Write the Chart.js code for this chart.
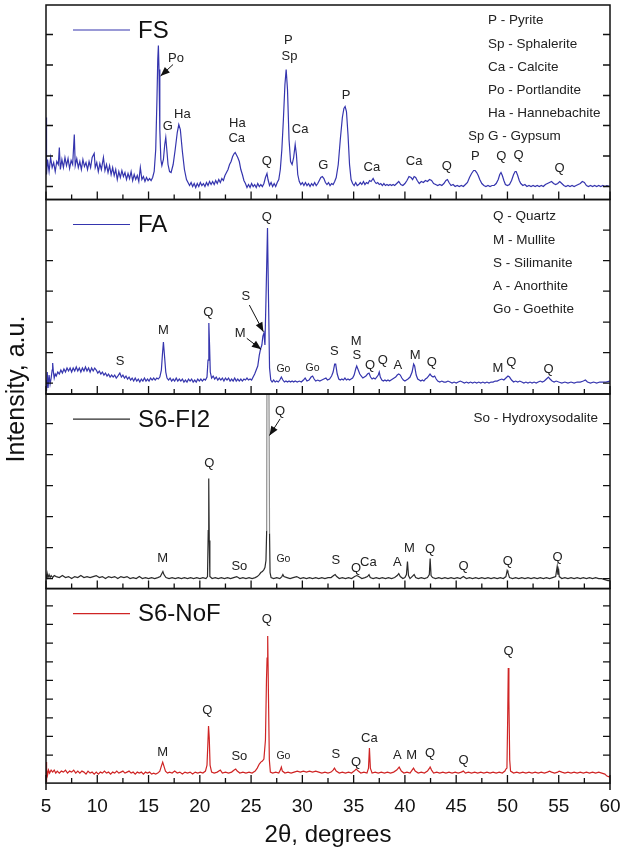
<!DOCTYPE html>
<html>
<head>
<meta charset="utf-8">
<title>XRD patterns</title>
<script src="https://cdn.jsdelivr.net/npm/chart.js@4.4.1/dist/chart.umd.min.js"></script>
<style>
  html, body { margin: 0; padding: 0; background: #fff; }
  canvas { display: block; }
</style>
</head>
<body>
<canvas id="xrd" width="621" height="848"></canvas>
<script>
/* XRD patterns — four stacked panels sharing the 2θ axis */

// ---- data: [2θ, intensity a.u.] ----
const fsPattern = [
  [5.00,820],[5.05,250],[5.15,400],[5.3,280],[5.45,420],[5.6,320],[5.75,370],[5.9,280],[6.05,380],[6.2,350],
  [6.3,520],[6.4,300],[6.55,400],[6.7,320],[6.85,420],[7.0,340],[7.15,410],[7.3,310],[7.45,390],[7.6,350],
  [7.76,650],[7.85,340],[8.0,410],[8.15,320],[8.3,380],[8.45,300],[8.6,400],[8.75,330],[8.9,370],[9.05,300],
  [9.2,380],[9.35,320],[9.5,420],[9.7,460],[9.8,320],[9.95,370],[10.1,280],[10.25,360],[10.4,300],[10.6,420],
  [10.75,290],[10.9,350],[11.05,270],[11.2,340],[11.35,250],[11.5,320],[11.65,240],[11.8,300],[11.95,200],[12.1,280],
  [12.25,220],[12.4,290],[12.55,230],[12.7,270],[12.85,200],[13.0,260],[13.15,210],[13.3,280],[13.45,190],[13.6,250],
  [13.75,200],[13.9,240],[14.05,180],[14.2,320],[14.35,200],[14.5,230],[14.65,180],[14.8,220],[14.95,190],[15.1,210],
  [15.25,190],[15.4,220],[15.55,280],[15.7,500],[15.82,1000],[15.9,1400],[15.96,1540],[16.02,1300],[16.1,700],[16.2,400],
  [16.3,340],[16.45,400],[16.58,550],[16.68,620],[16.78,500],[16.9,350],[17.05,280],[17.2,270],[17.4,350],[17.6,500],
  [17.8,670],[17.95,750],[18.1,700],[18.3,480],[18.5,300],[18.7,200],[18.85,170],[19.0,140],[19.15,170],[19.3,130],
  [19.45,160],[19.6,120],[19.75,160],[19.9,130],[20.05,170],[20.2,140],[20.35,160],[20.5,130],[20.65,170],[20.8,140],
  [20.95,180],[21.1,150],[21.25,180],[21.4,150],[21.55,190],[21.7,160],[21.85,200],[22.0,170],[22.15,210],[22.3,190],
  [22.45,240],[22.6,270],[22.75,300],[22.9,350],[23.05,380],[23.2,430],[23.35,460],[23.45,470],[23.55,450],[23.7,420],
  [23.85,380],[24.0,300],[24.15,250],[24.3,190],[24.45,160],[24.6,120],[24.75,150],[24.9,120],[25.05,160],[25.2,130],
  [25.35,150],[25.5,120],[25.65,160],[25.8,130],[25.95,150],[26.1,130],[26.25,160],[26.4,220],[26.55,260],[26.65,200],
  [26.8,140],[26.95,170],[27.1,130],[27.25,160],[27.4,130],[27.55,170],[27.7,200],[27.85,300],[28.0,500],[28.15,800],
  [28.3,1150],[28.42,1300],[28.55,1100],[28.7,600],[28.85,380],[29.0,350],[29.15,420],[29.3,550],[29.42,450],[29.55,250],
  [29.7,180],[29.85,150],[30.0,170],[30.15,140],[30.3,170],[30.45,140],[30.6,160],[30.75,130],[30.9,160],[31.05,140],
  [31.2,170],[31.35,140],[31.5,160],[31.65,190],[31.8,220],[31.95,230],[32.1,210],[32.25,170],[32.4,150],[32.55,170],
  [32.7,140],[32.85,160],[33.0,150],[33.15,180],[33.3,220],[33.5,350],[33.7,600],[33.9,820],[34.05,910],[34.17,930],
  [34.3,880],[34.45,650],[34.6,350],[34.75,200],[34.9,160],[35.05,140],[35.2,170],[35.35,140],[35.5,150],[35.65,170],
  [35.8,150],[35.96,180],[36.1,150],[36.25,170],[36.4,160],[36.55,190],[36.7,180],[36.9,210],[37.05,180],[37.2,160],
  [37.35,170],[37.5,150],[37.65,160],[37.8,140],[37.95,160],[38.1,140],[38.25,150],[38.4,140],[38.55,150],[38.7,140],
  [38.85,150],[39.0,140],[39.2,160],[39.4,180],[39.6,150],[39.8,140],[40.0,160],[40.2,190],[40.4,230],[40.6,220],
  [40.75,200],[40.9,230],[41.05,220],[41.2,190],[41.4,160],[41.6,180],[41.8,170],[42.0,190],[42.2,180],[42.4,200],
  [42.6,190],[42.8,160],[43.0,150],[43.2,140],[43.4,150],[43.6,140],[43.8,160],[44.0,190],[44.15,200],[44.3,170],
  [44.5,140],[44.7,150],[44.9,130],[45.1,140],[45.3,130],[45.5,140],[45.7,130],[45.9,150],[46.1,170],[46.3,220],
  [46.5,260],[46.7,290],[46.85,290],[47.0,270],[47.15,240],[47.3,200],[47.5,160],[47.7,140],[47.9,130],[48.1,140],
  [48.3,130],[48.5,140],[48.7,140],[48.9,160],[49.1,200],[49.25,250],[49.37,270],[49.5,240],[49.65,190],[49.8,150],
  [50.0,140],[50.2,150],[50.4,190],[50.6,250],[50.75,280],[50.85,280],[51.0,240],[51.15,190],[51.3,160],[51.5,140],
  [51.7,150],[51.9,130],[52.1,140],[52.3,130],[52.5,140],[52.7,130],[52.9,140],[53.1,130],[53.3,140],[53.5,130],
  [53.7,150],[53.9,160],[54.1,170],[54.3,180],[54.5,160],[54.7,150],[54.9,160],[55.1,180],[55.3,160],[55.5,140],
  [55.7,130],[55.9,140],[56.1,130],[56.3,140],[56.5,130],[56.7,140],[56.9,150],[57.1,160],[57.3,180],[57.5,170],
  [57.7,140],[57.9,130],[58.1,140],[58.3,130],[58.5,140],[58.7,130],[58.9,140],[59.1,130],[59.3,140],[59.5,130],
  [59.7,140],[60.0,130]
];

const faPattern = [
  [5.0,140],[5.05,30],[5.12,220],[5.2,60],[5.3,190],[5.4,100],[5.5,160],[5.6,240],[5.65,310],[5.72,220],
  [5.8,160],[5.9,200],[6.0,180],[6.15,220],[6.3,200],[6.45,240],[6.6,210],[6.75,250],[6.9,220],[7.05,260],
  [7.2,230],[7.35,260],[7.5,220],[7.65,260],[7.8,230],[7.95,270],[8.1,230],[8.25,260],[8.4,220],[8.55,260],
  [8.7,230],[8.85,270],[9.0,230],[9.15,260],[9.3,220],[9.45,260],[9.6,230],[9.75,260],[9.9,240],[10.05,210],
  [10.2,230],[10.35,200],[10.5,220],[10.65,190],[10.8,210],[10.95,180],[11.1,200],[11.25,170],[11.4,190],[11.55,170],
  [11.7,190],[11.85,160],[12.0,180],[12.2,210],[12.35,170],[12.5,190],[12.65,160],[12.8,180],[12.95,150],[13.1,170],
  [13.25,140],[13.4,160],[13.55,130],[13.7,160],[13.85,130],[14.0,150],[14.15,120],[14.3,150],[14.45,130],[14.6,160],
  [14.75,130],[14.9,150],[15.05,130],[15.2,160],[15.35,140],[15.5,160],[15.65,140],[15.8,160],[15.95,150],[16.1,170],
  [16.25,240],[16.35,390],[16.45,520],[16.55,390],[16.68,220],[16.8,160],[16.95,140],[17.1,160],[17.25,130],[17.4,150],
  [17.55,130],[17.7,160],[17.85,130],[18.0,150],[18.15,130],[18.3,150],[18.45,120],[18.6,140],[18.75,120],[18.9,150],
  [19.05,130],[19.2,150],[19.35,120],[19.5,140],[19.65,120],[19.8,150],[19.95,130],[20.1,150],[20.25,130],[20.4,150],
  [20.55,140],[20.7,170],[20.8,340],[20.88,710],[20.95,490],[21.02,220],[21.15,160],[21.3,180],[21.45,150],[21.6,170],
  [21.75,140],[21.9,160],[22.05,140],[22.2,160],[22.35,130],[22.5,160],[22.65,140],[22.8,160],[22.95,130],[23.1,150],
  [23.25,130],[23.4,160],[23.55,130],[23.7,150],[23.85,130],[24.0,150],[24.15,130],[24.3,150],[24.45,140],[24.6,160],
  [24.75,140],[24.9,150],[25.05,140],[25.2,170],[25.35,200],[25.5,240],[25.65,280],[25.8,390],[25.92,450],[26.05,490],
  [26.15,580],[26.25,610],[26.35,490],[26.45,940],[26.6,1660],[26.7,940],[26.8,260],[26.92,140],[27.05,120],[27.2,140],
  [27.35,120],[27.5,130],[27.65,120],[27.8,140],[27.95,170],[28.1,140],[28.25,120],[28.4,130],[28.55,120],[28.7,130],
  [28.85,120],[29.0,130],[29.15,120],[29.3,130],[29.5,120],[29.7,130],[29.9,120],[30.1,140],[30.27,160],[30.45,130],
  [30.65,140],[30.85,170],[31.0,180],[31.15,150],[31.3,130],[31.5,140],[31.7,130],[31.9,140],[32.1,150],[32.3,160],
  [32.45,140],[32.65,150],[32.85,180],[33.0,220],[33.15,300],[33.25,300],[33.4,200],[33.55,150],[33.7,140],[33.85,150],
  [34.0,140],[34.15,160],[34.3,140],[34.45,150],[34.6,140],[34.75,150],[34.9,160],[35.05,190],[35.2,250],[35.3,280],
  [35.45,240],[35.6,200],[35.75,180],[35.9,160],[36.05,170],[36.2,180],[36.35,200],[36.5,210],[36.65,170],[36.8,150],
  [36.95,160],[37.1,150],[37.25,170],[37.4,190],[37.5,220],[37.6,170],[37.75,140],[37.9,130],[38.05,140],[38.2,130],
  [38.35,140],[38.5,130],[38.65,140],[38.8,150],[38.95,160],[39.1,170],[39.25,190],[39.4,200],[39.55,190],[39.7,160],
  [39.85,140],[40.0,130],[40.15,140],[40.3,150],[40.5,170],[40.7,220],[40.85,300],[40.95,280],[41.1,190],[41.25,150],
  [41.4,140],[41.55,130],[41.7,140],[41.85,130],[42.0,150],[42.15,160],[42.3,180],[42.45,200],[42.6,180],[42.75,170],
  [42.9,180],[43.05,150],[43.2,130],[43.4,120],[43.6,130],[43.8,120],[44.0,120],[44.2,130],[44.4,120],[44.6,110],
  [44.8,120],[45.0,110],[45.2,120],[45.4,130],[45.6,120],[45.8,110],[46.0,120],[46.2,110],[46.4,120],[46.6,110],
  [46.8,120],[47.0,110],[47.2,120],[47.4,110],[47.6,120],[47.8,110],[48.0,120],[48.2,110],[48.4,120],[48.6,120],
  [48.8,130],[49.0,130],[49.2,140],[49.45,150],[49.65,140],[49.85,160],[50.05,180],[50.2,170],[50.4,140],[50.6,120],
  [50.8,130],[51.0,120],[51.2,130],[51.4,120],[51.6,110],[51.8,120],[52.0,110],[52.2,120],[52.4,110],[52.6,120],
  [52.8,110],[53.0,120],[53.2,130],[53.4,120],[53.6,130],[53.8,150],[54.0,170],[54.15,150],[54.35,130],[54.55,120],
  [54.75,130],[55.0,120],[55.3,110],[55.6,120],[55.9,110],[56.2,120],[56.5,110],[56.8,120],[57.1,120],[57.4,130],
  [57.6,140],[57.8,120],[58.1,110],[58.4,120],[58.7,110],[59.0,120],[59.3,120],[59.6,120],[60.0,130]
];

const fi2Pattern = [
  [5.0,140],[5.05,100],[5.12,150],[5.2,110],[5.3,140],[5.4,110],[5.5,130],[5.65,110],[5.8,130],[6.0,120],
  [6.3,110],[6.6,130],[6.9,110],[7.2,120],[7.5,100],[7.8,120],[8.1,110],[8.4,130],[8.7,110],[9.0,120],
  [9.3,110],[9.6,120],[9.9,130],[10.2,110],[10.5,120],[10.8,100],[11.1,120],[11.4,110],[11.7,120],[12.0,100],
  [12.3,120],[12.6,110],[12.9,120],[13.2,100],[13.5,110],[13.8,100],[14.1,120],[14.4,100],[14.7,110],[15.0,100],
  [15.3,110],[15.6,100],[15.9,110],[16.15,120],[16.3,150],[16.4,170],[16.5,140],[16.7,110],[17.0,100],[17.3,110],
  [17.6,100],[17.9,110],[18.2,100],[18.5,110],[18.8,100],[19.1,110],[19.4,100],[19.7,110],[20.0,100],[20.3,110],
  [20.6,100],[20.75,120],[20.82,580],[20.87,1100],[20.92,480],[20.98,120],[21.2,100],[21.5,110],[21.8,100],[22.1,110],
  [22.4,100],[22.7,110],[23.0,100],[23.3,110],[23.6,120],[23.9,100],[24.2,110],[24.5,100],[24.8,110],[25.1,100],
  [25.4,110],[25.6,120],[25.8,140],[25.95,160],[26.1,170],[26.25,190],[26.35,210],[26.45,280],[26.52,580],[26.56,3000],
  [26.7,3000],[26.8,550],[26.85,160],[26.95,110],[27.2,100],[27.5,110],[27.8,100],[28.0,120],[28.1,140],[28.2,120],
  [28.5,110],[28.8,100],[29.1,110],[29.45,120],[29.8,100],[30.1,110],[30.4,100],[30.7,110],[31.0,100],[31.3,110],
  [31.6,100],[31.9,110],[32.2,100],[32.5,110],[32.8,110],[33.05,130],[33.2,140],[33.35,120],[33.6,100],[33.9,110],
  [34.2,100],[34.5,110],[34.8,100],[35.1,120],[35.3,130],[35.5,120],[35.8,100],[36.1,110],[36.35,120],[36.5,140],
  [36.62,110],[36.9,100],[37.2,110],[37.5,100],[37.8,110],[38.1,100],[38.4,110],[38.7,100],[39.0,110],[39.25,130],
  [39.4,150],[39.55,120],[39.8,100],[40.0,110],[40.15,140],[40.25,270],[40.35,130],[40.5,100],[40.7,120],[40.9,140],
  [41.05,110],[41.3,100],[41.6,110],[41.9,100],[42.2,110],[42.38,140],[42.46,300],[42.55,130],[42.7,110],[43.0,100],
  [43.3,110],[43.6,100],[43.9,110],[44.2,100],[44.5,110],[44.8,100],[45.1,110],[45.4,100],[45.7,120],[46.0,100],
  [46.3,110],[46.6,100],[46.9,110],[47.2,100],[47.5,110],[47.8,100],[48.1,110],[48.4,100],[48.7,110],[49.0,100],
  [49.3,110],[49.6,100],[49.85,120],[49.97,180],[50.05,160],[50.2,110],[50.5,100],[50.8,110],[51.1,100],[51.4,110],
  [51.7,100],[52.0,110],[52.3,100],[52.6,110],[52.9,100],[53.2,110],[53.5,100],[53.8,110],[54.1,100],[54.4,110],
  [54.7,120],[54.85,220],[54.92,140],[54.98,200],[55.05,120],[55.3,100],[55.6,110],[55.9,100],[56.2,110],[56.5,100],
  [56.8,110],[57.1,100],[57.4,110],[57.7,100],[58.0,110],[58.3,100],[58.6,110],[58.9,100],[59.2,100],[59.5,90],
  [59.8,80],[60.0,80]
];

const nofPattern = [
  [5.0,210],[5.03,10],[5.08,150],[5.15,80],[5.25,130],[5.35,100],[5.5,130],[5.65,110],[5.8,130],[5.95,100],
  [6.1,120],[6.3,100],[6.5,120],[6.7,110],[6.9,130],[7.1,100],[7.3,120],[7.5,110],[7.7,130],[7.9,100],
  [8.1,120],[8.3,100],[8.5,120],[8.7,110],[8.9,90],[9.1,120],[9.3,100],[9.5,110],[9.7,90],[9.9,110],
  [10.1,90],[10.3,110],[10.5,100],[10.7,120],[10.9,100],[11.1,110],[11.3,90],[11.5,110],[11.7,100],[11.9,120],
  [12.1,100],[12.3,110],[12.5,120],[12.7,100],[12.9,110],[13.1,120],[13.3,100],[13.5,110],[13.7,90],[13.9,110],
  [14.1,100],[14.3,110],[14.5,90],[14.7,110],[14.9,100],[15.1,110],[15.3,90],[15.5,100],[15.7,90],[15.9,100],
  [16.1,120],[16.25,170],[16.38,210],[16.5,170],[16.65,120],[16.85,100],[17.05,110],[17.3,100],[17.55,120],[17.8,100],
  [18.05,110],[18.3,90],[18.55,110],[18.8,100],[19.05,110],[19.3,90],[19.55,110],[19.8,100],[20.05,110],[20.3,100],
  [20.55,120],[20.7,180],[20.78,380],[20.85,570],[20.92,450],[21.0,180],[21.15,110],[21.4,100],[21.7,110],[22.0,130],
  [22.2,100],[22.5,110],[22.8,100],[23.1,110],[23.35,130],[23.5,140],[23.65,120],[23.9,100],[24.2,110],[24.5,100],
  [24.8,110],[25.1,100],[25.4,120],[25.6,150],[25.8,190],[25.95,210],[26.1,220],[26.25,240],[26.4,430],[26.5,1030],
  [26.56,1250],[26.62,1470],[26.7,830],[26.78,230],[26.88,110],[27.1,100],[27.4,110],[27.7,100],[27.85,130],[27.95,160],
  [28.05,120],[28.3,100],[28.6,110],[28.9,100],[29.2,110],[29.5,120],[29.8,110],[30.1,120],[30.4,110],[30.7,120],
  [31.0,110],[31.3,120],[31.6,110],[31.9,100],[32.2,110],[32.5,100],[32.8,110],[33.0,130],[33.13,150],[33.3,120],
  [33.6,100],[33.9,110],[34.2,100],[34.5,110],[34.8,100],[35.05,120],[35.25,140],[35.45,120],[35.7,100],[36.0,110],
  [36.3,100],[36.45,150],[36.54,350],[36.63,150],[36.8,100],[37.1,110],[37.4,100],[37.7,110],[38.0,100],[38.3,110],
  [38.6,100],[38.9,110],[39.2,130],[39.44,160],[39.65,120],[39.9,100],[40.2,110],[40.5,100],[40.7,130],[40.84,150],
  [41.0,120],[41.3,100],[41.6,110],[41.9,100],[42.2,120],[42.4,150],[42.46,160],[42.6,130],[42.8,100],[43.1,110],
  [43.4,100],[43.7,110],[44.0,100],[44.3,110],[44.6,100],[44.9,110],[45.2,100],[45.5,110],[45.7,120],[45.9,100],
  [46.2,110],[46.5,100],[46.8,110],[47.1,100],[47.4,110],[47.7,100],[48.0,110],[48.3,100],[48.6,110],[48.9,100],
  [49.2,110],[49.5,100],[49.75,120],[49.85,140],[49.95,150],[50.02,630],[50.08,1150],[50.14,830],[50.22,230],[50.3,120],
  [50.6,100],[50.9,110],[51.2,100],[51.5,110],[51.8,100],[52.1,110],[52.4,100],[52.7,110],[53.0,100],[53.3,110],
  [53.6,100],[53.9,110],[54.1,120],[54.3,110],[54.6,100],[54.9,110],[55.05,120],[55.3,110],[55.6,100],[55.9,110],
  [56.2,100],[56.5,110],[56.8,100],[57.1,110],[57.4,100],[57.7,110],[58.0,100],[58.3,110],[58.6,100],[58.9,110],
  [59.2,100],[59.5,90],[59.7,70],[60.0,60]
];

// peak labels: [2θ, intensity, phase]
const fsPeaks = [
  [17.68,1410,'Po'],[16.87,733,'G'],[18.30,850,'Ha'],[23.66,757,'Ha'],[23.60,607,'Ca'],[26.53,377,'Q'],
  [28.64,1593,'P'],[28.74,1433,'Sp'],[29.78,700,'Ca'],[32.05,340,'G'],[34.27,1043,'P'],[36.78,317,'Ca'],
  [40.90,377,'Ca'],[44.09,333,'Q'],[46.95,627,'Sp'],[46.88,427,'P'],[49.39,433,'Q'],[51.08,440,'Q'],[55.08,307,'Q']
];
const faPeaks = [
  [12.22,323,'S'],[16.44,633,'M'],[20.83,813,'Q'],[24.48,973,'S'],[23.93,607,'M'],[26.53,1767,'Q'],
  [28.15,247,'Go'],[31.00,255,'Go'],[33.13,430,'S'],[35.24,523,'M'],[35.31,383,'S'],[36.61,290,'Q'],
  [37.85,333,'Q'],[39.31,290,'A'],[41.00,390,'M'],[42.63,313,'Q'],[49.07,257,'M'],[50.37,313,'Q'],[54.00,250,'Q']
];
const fi2Peaks = [
  [27.83,1770,'Q'],[20.93,1247,'Q'],[16.38,297,'M'],[23.86,220,'So'],[28.15,297,'Go'],[33.26,280,'S'],
  [35.24,203,'Q'],[36.44,257,'Ca'],[39.27,257,'A'],[40.44,403,'M'],[42.46,387,'Q'],[45.71,223,'Q'],
  [50.04,273,'Q'],[54.88,313,'Q']
];
const nofPeaks = [
  [26.53,1637,'Q'],[20.74,730,'Q'],[16.38,303,'M'],[23.86,263,'So'],[28.15,273,'Go'],[33.26,287,'S'],
  [35.24,203,'Q'],[36.54,447,'Ca'],[39.27,273,'A'],[40.67,280,'M'],[42.46,297,'Q'],[45.71,230,'Q'],[50.10,1320,'Q']
];

// arrows: [from 2θ, from I, to 2θ, to I]
const fsArrows  = [[17.39,1350,16.17,1235]];
const faArrows  = [[24.83,890,26.20,623],[24.58,557,25.98,447]];
const fi2Arrows = [[27.83,1697,26.79,1530]];
const nofArrows = [];

// phase keys
const fsKey  = ['P - Pyrite','Sp - Sphalerite','Ca - Calcite','Po - Portlandite','Ha - Hannebachite','G - Gypsum'];
const faKey  = ['Q - Quartz','M - Mullite','S - Silimanite','A - Anorthite','Go - Goethite'];
const fi2Key = ['So - Hydroxysodalite'];
const nofKey = [];

// y tick marks (unlabelled) per panel
const fsTicks  = [130,435,740,1040,1345,1650];
const faTicks  = [110,415,720,1030,1335,1640];
const fi2Ticks = [100,410,720,1030,1340,1650];
const nofTicks = [280,467,653,840,1027,1213,1400,1587,1773];

const xMin = 5, xMax = 60, xStep = 5;
const panelMax = 1945;
const FONT = "'Liberation Sans', Arial, sans-serif";

const panels = [
  { id: 'yFS',  name: 'FS',     color: '#3535ae', data: fsPattern,  peaks: fsPeaks,  arrows: fsArrows,  key: fsKey,  ticks: fsTicks,  weight: 4 },
  { id: 'yFA',  name: 'FA',     color: '#3535ae', data: faPattern,  peaks: faPeaks,  arrows: faArrows,  key: faKey,  ticks: faTicks,  weight: 3 },
  { id: 'yFI2', name: 'S6-FI2', color: '#2b2b2b', data: fi2Pattern, peaks: fi2Peaks, arrows: fi2Arrows, key: fi2Key, ticks: fi2Ticks, weight: 2 },
  { id: 'yNoF', name: 'S6-NoF', color: '#cf2424', data: nofPattern, peaks: nofPeaks, arrows: nofArrows, key: nofKey, ticks: nofTicks, weight: 1 },
];

// frame, inward ticks, legends, peak labels, arrows and keys
const decorations = {
  id: 'decorations',
  afterDatasetsDraw(chart) {
    const { ctx } = chart;
    const x = chart.scales.x;
    const left = x.left, right = x.right;
    ctx.save();
    ctx.lineCap = 'butt';

    panels.forEach((p, i) => {
      const y = chart.scales[p.id];
      const top = y.top, bot = y.bottom;

      ctx.strokeStyle = '#111';
      ctx.lineWidth = 1.5;
      ctx.strokeRect(left, top, right - left, bot - top);
      if (i === panels.length - 1) {
        ctx.beginPath();
        ctx.moveTo(left, bot); ctx.lineTo(left, bot + 7);
        ctx.moveTo(right, bot); ctx.lineTo(right, bot + 7);
        ctx.stroke();
      }

      ctx.lineWidth = 1.3;
      ctx.beginPath();
      p.ticks.forEach(v => {
        const py = y.getPixelForValue(v);
        ctx.moveTo(left, py); ctx.lineTo(left + 7, py);
        ctx.moveTo(right, py); ctx.lineTo(right - 7, py);
      });
      for (let a = xMin; a <= xMax; a += xStep / 2) {
        const px = x.getPixelForValue(a);
        const len = (a % xStep === 0) ? 8 : 5;
        ctx.moveTo(px, bot); ctx.lineTo(px, bot - len);
      }
      ctx.stroke();

      // legend
      ctx.strokeStyle = p.color;
      ctx.lineWidth = 1.2;
      ctx.beginPath();
      ctx.moveTo(left + 27, top + 25); ctx.lineTo(left + 84, top + 25);
      ctx.stroke();
      ctx.fillStyle = '#111';
      ctx.font = '24px ' + FONT;
      ctx.textAlign = 'left';
      ctx.textBaseline = 'middle';
      ctx.fillText(p.name, left + 92, top + 26);

      // peak labels
      ctx.fillStyle = '#222';
      ctx.textAlign = 'center';
      p.peaks.forEach(([a, v, t]) => {
        ctx.font = (t === 'Go' ? '10.5px ' : '13px ') + FONT;
        ctx.fillText(t, x.getPixelForValue(a), y.getPixelForValue(v));
      });

      // arrows
      ctx.strokeStyle = '#111';
      ctx.fillStyle = '#111';
      ctx.lineWidth = 1;
      p.arrows.forEach(([a0, v0, a1, v1]) => {
        const x0 = x.getPixelForValue(a0), y0 = y.getPixelForValue(v0);
        const x1 = x.getPixelForValue(a1), y1 = y.getPixelForValue(v1);
        const ang = Math.atan2(y1 - y0, x1 - x0);
        ctx.beginPath(); ctx.moveTo(x0, y0); ctx.lineTo(x1, y1); ctx.stroke();
        ctx.beginPath();
        ctx.moveTo(x1, y1);
        ctx.lineTo(x1 - 10 * Math.cos(ang - 0.38), y1 - 10 * Math.sin(ang - 0.38));
        ctx.lineTo(x1 - 10 * Math.cos(ang + 0.38), y1 - 10 * Math.sin(ang + 0.38));
        ctx.closePath(); ctx.fill();
      });

      // phase key
      ctx.fillStyle = '#222';
      ctx.font = '13.5px ' + FONT;
      if (p.key.length > 1) {
        ctx.textAlign = 'left';
        const kx = p.id === 'yFS' ? left + 442 : left + 447;
        const ky = p.id === 'yFS' ? top + 15.7 : top + 17.2;
        p.key.forEach((t, k) => ctx.fillText(t, kx, ky + k * 23.1));
      } else if (p.key.length === 1) {
        ctx.textAlign = 'right';
        ctx.fillText(p.key[0], right - 12, top + 24.3);
      }
    });

    // shared y title
    const first = chart.scales[panels[0].id], last = chart.scales[panels[panels.length - 1].id];
    ctx.translate(left - 29, (first.top + last.bottom) / 2 - 5);
    ctx.rotate(-Math.PI / 2);
    ctx.fillStyle = '#111';
    ctx.font = '25px ' + FONT;
    ctx.textAlign = 'center';
    ctx.textBaseline = 'middle';
    ctx.fillText('Intensity, a.u.', 0, 0);
    ctx.restore();
  }
};

const scales = {
  x: {
    type: 'linear', position: 'bottom', min: xMin, max: xMax,
    // tall tick line box pushes the labels down without adding side padding
    ticks: { stepSize: xStep, padding: 0, color: '#111', font: { family: FONT, size: 19, lineHeight: 2.49 } },
    grid: { display: false, drawTicks: false }, border: { display: false },
    title: { display: true, text: '2θ, degrees', color: '#111',
             font: { family: FONT, size: 24, lineHeight: 0.383 }, padding: { top: 0, bottom: 8.4 } },
  },
};
panels.forEach(p => {
  scales[p.id] = {
    type: 'linear', position: 'left', stack: 'xrd', stackWeight: 1, weight: p.weight,
    min: 0, max: panelMax,
    ticks: { display: false }, grid: { display: false, drawTicks: false }, border: { display: false },
  };
});

new Chart(document.getElementById('xrd'), {
  type: 'line',
  data: {
    datasets: panels.map(p => ({
      label: p.name,
      data: p.data.map(([a, v]) => ({ x: a, y: v })),
      yAxisID: p.id,
      borderColor: p.color,
      borderWidth: 1.2,
      pointRadius: 0,
      tension: 0,
      segment: {
        // the clipped quartz reflection renders as a grey bar
        borderColor: c => (c.p0.parsed.y > panelMax || c.p1.parsed.y > panelMax) ? '#8d8d8d' : undefined,
      },
    })),
  },
  options: {
    responsive: false,
    animation: false,
    layout: { padding: { left: 46, right: 11, top: 5, bottom: 0 } },
    plugins: { legend: { display: false }, tooltip: { enabled: false } },
    scales,
  },
  plugins: [decorations],
});
</script>
</body>
</html>
